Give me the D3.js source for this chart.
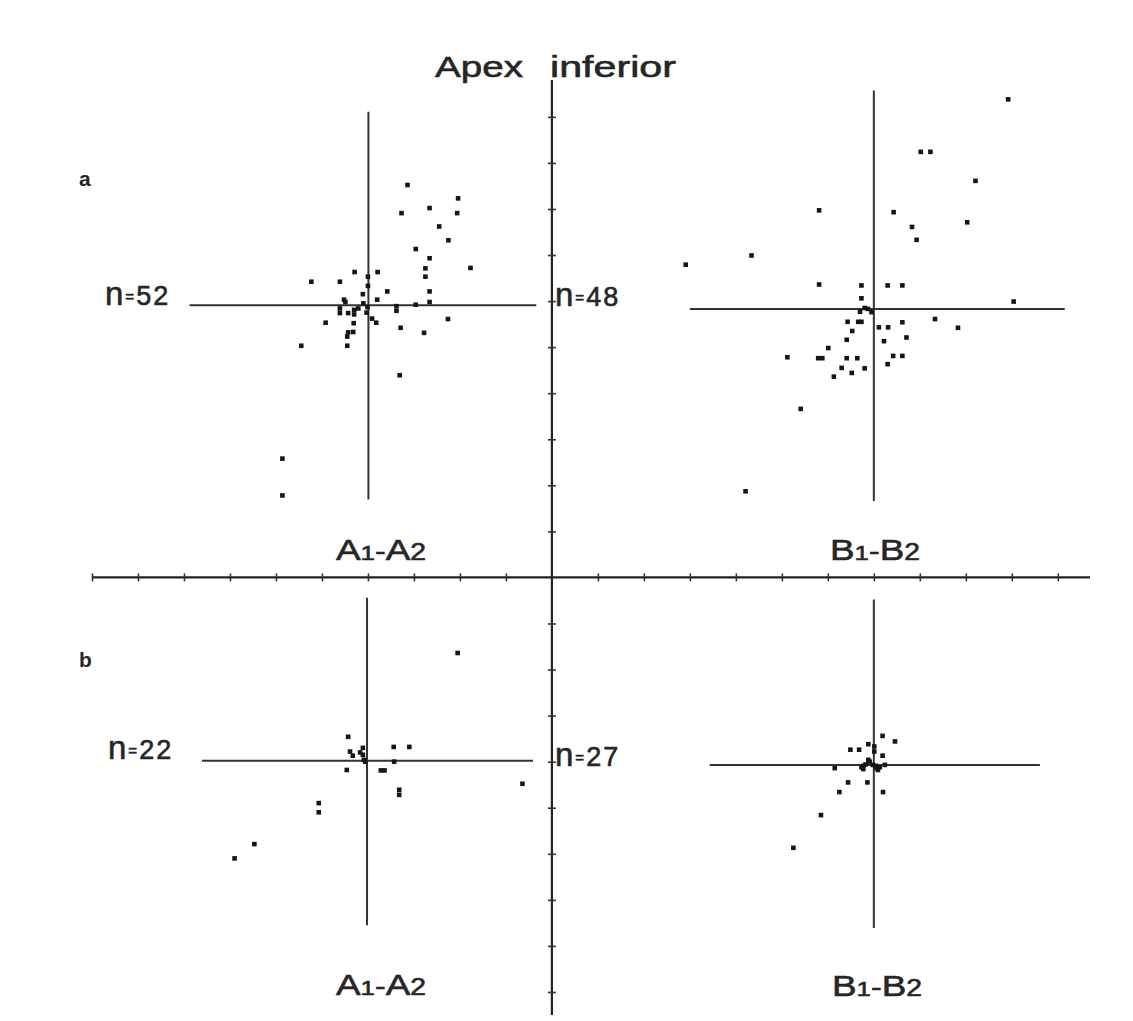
<!DOCTYPE html>
<html>
<head>
<meta charset="utf-8">
<script src="https://cdn.jsdelivr.net/npm/d3@7"></script>
<style>
  body { margin: 0; background: #fff; }
  text { font-family: "Liberation Sans", Arial, sans-serif; fill: #262626; stroke: #262626; stroke-width: 0.6; }
  .tick line { stroke: #333; stroke-width: 1.6; }
</style>
</head>
<body>
<div id="chart"></div>
<script>
// SVG area
var svgWidth = 1133;
var svgHeight = 1021;

// tick positions on the big cross (one tick = one unit)
var xTicks = d3.range(-10, 12).filter(d => d !== 0);
var yTicks = d3.range(-9, 11).filter(d => d !== 0);

// group a, A1-A2 : [x, y] in tick units, relative to the panel cross
var aA1A2 = [
  [0.85, 2.61], [1.95, 2.32], [0.72, 2.00], [1.33, 2.11], [1.93, 2.00], [1.54, 1.71],
  [1.74, 1.41], [1.03, 1.22], [1.33, 1.02], [2.22, 0.81], [1.24, 0.80], [1.24, 0.62],
  [-0.30, 0.72], [0.20, 0.72], [-1.24, 0.51], [-0.62, 0.51], [-0.01, 0.62], [-0.01, 0.42],
  [0.41, 0.30], [1.33, 0.30], [-0.12, 0.24], [-0.53, 0.12], [0.19, 0.12], [1.33, 0.07],
  [1.03, 0.01], [0.61, -0.02], [0.61, -0.12], [-0.62, -0.07], [-0.62, -0.17], [-0.44, -0.17],
  [-0.31, -0.10], [-0.31, -0.20], [-0.04, -0.16], [0.08, -0.29], [0.17, -0.38], [-0.93, -0.38],
  [-0.32, -0.39], [1.73, -0.30], [0.70, -0.49], [1.21, -0.60], [-0.44, -0.59], [-0.33, -0.58],
  [-0.46, -0.68], [-1.46, -0.88], [-0.46, -0.88], [0.68, -1.52], [-0.02, -0.04], [-1.87, -3.33],
  [-1.87, -4.13], [-0.11, 0.04], [-0.22, -0.07], [-0.50, 0.07]
];

// group a, B1-B2
var aB1B2 = [
  [2.92, 4.55], [1.02, 3.41], [1.23, 3.41], [2.21, 2.78], [-1.19, 2.14], [0.43, 2.10],
  [2.03, 1.88], [0.83, 1.78], [0.93, 1.50], [-2.66, 1.16], [-4.09, 0.96], [-1.19, 0.53],
  [-0.27, 0.51], [0.30, 0.51], [0.62, 0.51], [-0.27, 0.23], [3.04, 0.16], [-0.30, -0.06],
  [-0.05, -0.07], [-0.57, -0.28], [-0.34, -0.28], [-0.27, -0.28], [0.11, -0.40], [0.31, -0.40],
  [0.62, -0.29], [1.33, -0.22], [1.83, -0.41], [-0.47, -0.48], [-0.59, -0.67], [0.22, -0.70],
  [0.71, -0.62], [-0.99, -0.85], [-1.88, -1.05], [-1.21, -1.07], [-1.12, -1.07], [-0.59, -1.07],
  [-0.36, -1.07], [0.42, -1.02], [0.62, -1.02], [0.30, -1.20], [-0.70, -1.28], [-0.20, -1.29],
  [-0.48, -1.39], [-0.87, -1.47], [-1.59, -2.17], [-2.79, -3.96], [-0.13, 0.00], [-0.20, 0.02]
];

// group b, A1-A2
var bA1A2 = [
  [1.97, 2.34], [-0.41, 0.52], [0.58, 0.30], [0.92, 0.30], [-0.37, 0.20], [-0.31, 0.11],
  [-0.09, 0.28], [-0.09, 0.13], [-0.07, 0.02], [0.59, -0.02], [-0.44, -0.20], [0.30, -0.21],
  [0.38, -0.21], [0.70, -0.63], [0.70, -0.74], [-1.05, -0.92], [-1.05, -1.12], [-2.45, -1.81],
  [-2.88, -2.12], [3.38, -0.50], [-0.04, -0.02], [-0.15, 0.18]
];

// group b, B1-B2
var bB1B2 = [
  [0.19, 0.63], [0.46, 0.51], [-0.12, 0.45], [-0.51, 0.33], [-0.32, 0.33], [0.01, 0.40],
  [0.01, 0.29], [0.19, 0.20], [-0.12, 0.11], [-0.23, -0.02], [-0.85, -0.07], [0.06, -0.07],
  [-0.02, 0.00], [-0.23, -0.09], [-0.56, -0.38], [-0.14, -0.38], [-0.75, -0.59], [0.20, -0.59],
  [-1.15, -1.09], [-1.75, -1.80], [0.13, -0.05], [-0.09, 0.07], [0.09, -0.11], [-0.27, -0.05],
  [-0.18, 0.01], [0.04, -0.02], [0.24, 0.00]
];

var sampleSizes = [52, 48, 22, 27];
var panelTitles = ["A1-A2", "B1-B2", "A1-A2", "B1-B2"];
var groupLabels = ["a", "b"];

// layout of the four panel crosses, in big-cross units
var panels = [
  { data: aA1A2, cx: -3.99, cy: 5.91, xr: [-3.89, 3.65], yr: [4.20, -4.22], nPos: [105, 305], tPos: [336, 560] },
  { data: aB1B2, cx: 7.00, cy: 5.83, xr: [-4.00, 4.15], yr: [4.74, -4.17], nPos: [555, 306], tPos: [830, 560] },
  { data: bA1A2, cx: -4.02, cy: -3.98, xr: [-3.59, 3.61], yr: [3.54, -3.57], nPos: [108, 759], tPos: [336, 995] },
  { data: bB1B2, cx: 7.00, cy: -4.07, xr: [-3.57, 3.61], yr: [3.59, -3.54], nPos: [555, 766], tPos: [832, 996] }
];

var svg = d3.select("#chart")
  .append("svg")
  .attr("width", svgWidth)
  .attr("height", svgHeight);

svg.append("rect").attr("width", svgWidth).attr("height", svgHeight).attr("fill", "#fff");

// big cross scales
var xScale = d3.scaleLinear().domain([-10, 11.7]).range([92, 1090]);
var yScale = d3.scaleLinear().domain([10.8, -9.5]).range([80, 1015]);

var x0 = xScale(0), y0 = yScale(0);

// big horizontal axis
svg.append("line")
  .attr("x1", xScale(-10)).attr("x2", xScale(11.7))
  .attr("y1", y0).attr("y2", y0)
  .attr("stroke", "#222").attr("stroke-width", 2.2);

svg.append("g")
  .attr("transform", `translate(0, ${y0 - 4})`)
  .call(d3.axisBottom(xScale).tickValues(xTicks).tickSize(8).tickFormat(""))
  .call(g => g.select(".domain").remove());

// big vertical axis
svg.append("line")
  .attr("x1", x0).attr("x2", x0)
  .attr("y1", yScale(10.8)).attr("y2", yScale(-9.5))
  .attr("stroke", "#222").attr("stroke-width", 2.2);

svg.append("g")
  .attr("transform", `translate(${x0 + 4}, 0)`)
  .call(d3.axisLeft(yScale).tickValues(yTicks).tickSize(8).tickFormat(""))
  .call(g => g.select(".domain").remove());

// panels
panels.forEach(function(p, i) {
  var px = d3.scaleLinear().domain([0, 1]).range([xScale(p.cx), xScale(p.cx + 1)]);
  var py = d3.scaleLinear().domain([0, 1]).range([yScale(p.cy), yScale(p.cy + 1)]);

  var g = svg.append("g");

  g.append("line")
    .attr("x1", px(p.xr[0])).attr("x2", px(p.xr[1]))
    .attr("y1", py(0)).attr("y2", py(0))
    .attr("stroke", "#333").attr("stroke-width", 2);

  g.append("line")
    .attr("x1", px(0)).attr("x2", px(0))
    .attr("y1", py(p.yr[0])).attr("y2", py(p.yr[1]))
    .attr("stroke", "#333").attr("stroke-width", 2);

  g.selectAll("rect.dot")
    .data(p.data)
    .enter()
    .append("rect")
    .classed("dot", true)
    .attr("x", d => px(d[0]) - 2.3)
    .attr("y", d => py(d[1]) - 2.3)
    .attr("width", 4.6)
    .attr("height", 4.6)
    .attr("fill", "#161616");

  // n = label
  var nt = svg.append("text")
    .attr("x", p.nPos[0])
    .attr("y", p.nPos[1]);
  nt.append("tspan").attr("font-size", 33).text("n");
  nt.append("tspan").attr("font-size", 15).attr("dx", 2).attr("dy", -3).text("=");
  nt.append("tspan").attr("font-size", 27).attr("dx", 2).attr("dy", 3).attr("letter-spacing", 2).text(sampleSizes[i]);

  // panel title, e.g. A1-A2
  var parts = panelTitles[i];
  var tt = svg.append("text")
    .attr("x", p.tPos[0])
    .attr("y", p.tPos[1])
    .attr("textLength", 90)
    .attr("lengthAdjust", "spacingAndGlyphs");
  tt.append("tspan").attr("font-size", 30).text(parts[0]);
  tt.append("tspan").attr("font-size", 21).text(parts[1]);
  tt.append("tspan").attr("font-size", 26).text(parts[2]);
  tt.append("tspan").attr("font-size", 30).text(parts[3]);
  tt.append("tspan").attr("font-size", 23).text(parts[4]);
});

// title
svg.append("text")
  .attr("x", 435).attr("y", 77)
  .attr("font-size", 30)
  .attr("textLength", 88).attr("lengthAdjust", "spacingAndGlyphs")
  .text("Apex");

svg.append("text")
  .attr("x", 550).attr("y", 77)
  .attr("font-size", 30)
  .attr("textLength", 126).attr("lengthAdjust", "spacingAndGlyphs")
  .text("inferior");

// group letters
svg.selectAll("text.group")
  .data(groupLabels)
  .enter()
  .append("text")
  .classed("group", true)
  .attr("x", 79)
  .attr("y", (d, i) => i === 0 ? 186 : 667)
  .attr("font-family", "Liberation Serif, serif")
  .attr("font-weight", "bold")
  .attr("font-size", 21)
  .style("stroke-width", 0)
  .text(d => d);
</script>
</body>
</html>
